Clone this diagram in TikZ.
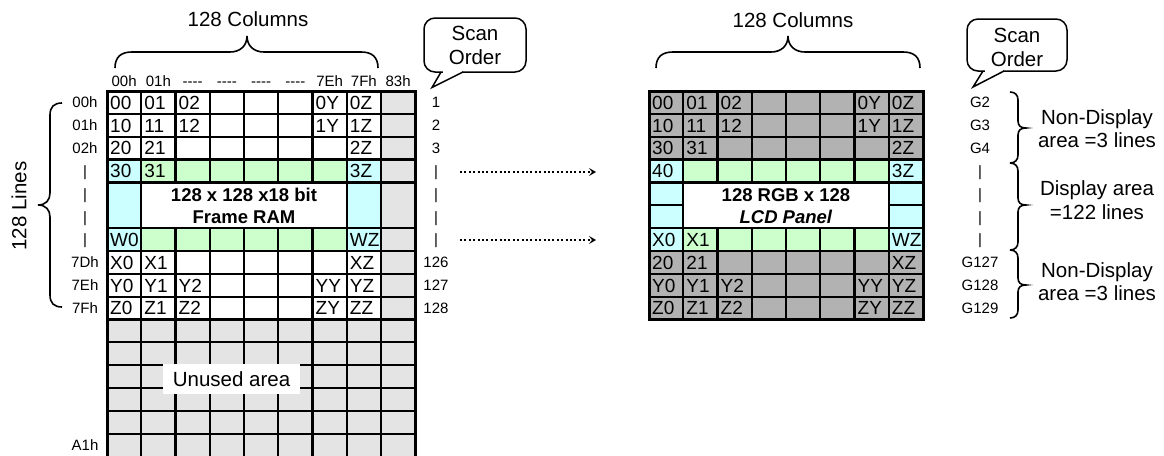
\documentclass[tikz,border=0pt]{standalone}
\usepackage{fontspec}
\setmainfont{Liberation Sans}
\usetikzlibrary{arrows.meta}
\definecolor{cy}{HTML}{CCFFFF}
\definecolor{gr}{HTML}{CCFFCC}
\definecolor{lg}{HTML}{E4E4E4}
\definecolor{dg}{HTML}{B2B2B2}
\def\LX{107}\def\RX{649}\def\CW{34.25}\def\TY{91}\def\RH{22.85}
\def\dsh{-{}-{}-{}-}
\begin{document}
\begin{tikzpicture}[x=1pt,y=-1pt,
  cellt/.style={font=\fontsize{19}{21}\selectfont,anchor=west,inner sep=0pt,text height=13.6pt,text depth=0pt},
  labt/.style={font=\fontsize{15}{16}\selectfont,inner sep=0pt,text height=10.7pt,text depth=0pt},
  bigt/.style={font=\fontsize{20.5}{24}\selectfont,inner sep=0pt,align=center},
  boldt/.style={font=\bfseries\fontsize{18.5}{22}\selectfont,inner sep=0pt,align=center},
  gridl/.style={line width=2.2pt},
  outl/.style={line width=3pt},
  brc/.style={line width=1.6pt},
  bub/.style={line width=1.5pt},
  dotarrow/.style={line width=2pt,dash pattern=on 2pt off 2.4pt,-{Stealth[length=7pt,width=8pt,inset=3pt]}}
]
\useasboundingbox (0,0) rectangle (1164,455);
\clip (0,0) rectangle (1164,455);
% ---------- left grid fills ----------
\fill[white] (\LX,\TY) rectangle ({\LX+9*\CW},470);
\fill[lg] ({\LX+8*\CW},\TY) rectangle ({\LX+9*\CW},470);
\fill[lg] (\LX,{\TY+10*\RH}) rectangle ({\LX+9*\CW},470);
\fill[cy] (\LX,{\TY+3*\RH}) rectangle ++(\CW,{4*\RH});
\fill[cy] ({\LX+7*\CW},{\TY+3*\RH}) rectangle ++(\CW,{4*\RH});
\fill[gr] ({\LX+\CW},{\TY+3*\RH}) rectangle ++({6*\CW},\RH);
\fill[gr] ({\LX+\CW},{\TY+6*\RH}) rectangle ++({6*\CW},\RH);
% left grid lines
\foreach \i in {1,7,8} \draw[gridl] ({\LX+\i*\CW},\TY) -- ({\LX+\i*\CW},470);
\foreach \i in {2,...,6} {
  \draw[gridl] ({\LX+\i*\CW},\TY) -- ({\LX+\i*\CW},{\TY+4*\RH});
  \draw[gridl] ({\LX+\i*\CW},{\TY+6*\RH}) -- ({\LX+\i*\CW},470);
}
\foreach \j in {1,2,3,4,6,7,8,9,10,11,12,13,14,15}
  \draw[gridl] (\LX,{\TY+\j*\RH}) -- ({\LX+9*\CW},{\TY+\j*\RH});
\draw[outl] (\LX,470) -- (\LX,\TY) -- ({\LX+9*\CW},\TY) -- ({\LX+9*\CW},470);
% ---------- right grid fills ----------
\fill[dg] (\RX,\TY) rectangle ({\RX+8*\CW},{\TY+10*\RH});
\fill[cy] (\RX,{\TY+3*\RH}) rectangle ++(\CW,{4*\RH});
\fill[cy] ({\RX+7*\CW},{\TY+3*\RH}) rectangle ++(\CW,{4*\RH});
\fill[gr] ({\RX+\CW},{\TY+3*\RH}) rectangle ++({6*\CW},\RH);
\fill[white] ({\RX+\CW},{\TY+4*\RH}) rectangle ++({6*\CW},{2*\RH});
\fill[gr] ({\RX+\CW},{\TY+6*\RH}) rectangle ++({6*\CW},\RH);
\foreach \i in {1,7} \draw[gridl] ({\RX+\i*\CW},\TY) -- ({\RX+\i*\CW},{\TY+10*\RH});
\foreach \i in {2,...,6} {
  \draw[gridl] ({\RX+\i*\CW},\TY) -- ({\RX+\i*\CW},{\TY+4*\RH});
  \draw[gridl] ({\RX+\i*\CW},{\TY+6*\RH}) -- ({\RX+\i*\CW},{\TY+10*\RH});
}
\foreach \j in {1,2,3,4,6,7,8,9}
  \draw[gridl] (\RX,{\TY+\j*\RH}) -- ({\RX+8*\CW},{\TY+\j*\RH});
\draw[gridl] (\RX,{\TY+5*\RH}) -- ++(\CW,0);
\draw[gridl] ({\RX+7*\CW},{\TY+5*\RH}) -- ++(\CW,0);
\draw[outl] (\RX,\TY) rectangle ({\RX+8*\CW},{\TY+10*\RH});
% ---------- cell texts ----------
\foreach \r/\c/\t in {0/0/00,0/1/01,0/2/02,0/6/0Y,0/7/0Z,
  1/0/10,1/1/11,1/2/12,1/6/1Y,1/7/1Z,
  2/0/20,2/1/21,2/7/2Z,
  3/0/30,3/1/31,3/7/3Z,
  6/0/W0,6/7/WZ,
  7/0/X0,7/1/X1,7/7/XZ,
  8/0/Y0,8/1/Y1,8/2/Y2,8/6/YY,8/7/YZ,
  9/0/Z0,9/1/Z1,9/2/Z2,9/6/ZY,9/7/ZZ}
  \node[cellt] (L\r-\c) at ({\LX+\c*\CW+3},{\TY+(\r+0.5)*\RH}) {\t};
\foreach \r/\c/\t in {0/0/00,0/1/01,0/2/02,0/6/0Y,0/7/0Z,
  1/0/10,1/1/11,1/2/12,1/6/1Y,1/7/1Z,
  2/0/30,2/1/31,2/7/2Z,
  3/0/40,3/7/3Z,
  6/0/X0,6/1/X1,6/7/WZ,
  7/0/20,7/1/21,7/7/XZ,
  8/0/Y0,8/1/Y1,8/2/Y2,8/6/YY,8/7/YZ,
  9/0/Z0,9/1/Z1,9/2/Z2,9/6/ZY,9/7/ZZ}
  \node[cellt] (R\r-\c) at ({\RX+\c*\CW+3},{\TY+(\r+0.5)*\RH}) {\t};
\node[boldt] (ram) at ({\LX+4*\CW},206) {128 x 128 x18 bit\\Frame RAM};
\node[boldt] (lcd) at ({\RX+4*\CW},206) {128 RGB x 128\\\textit{LCD Panel}};
\node[bigt,fill=white,minimum width=137pt,minimum height=30pt] (unused) at (231.5,379) {Unused area};
% ---------- labels ----------
\foreach \c/\t in {0/00h,1/01h,2/\dsh,3/\dsh,4/\dsh,5/\dsh,6/7Eh,7/7Fh,8/83h}
  \node[labt] (H\c) at ({\LX+(\c+0.5)*\CW},81.5) {\t};
\foreach \r/\t in {0/00h,1/01h,2/02h,3/|,4/|,5/|,6/|,7/7Dh,8/7Eh,9/7Fh,15/A1h}
  \node[labt] (RL\r) at (85,{\TY+(\r+0.5)*\RH}) {\t};
\foreach \r/\t in {0/1,1/2,2/3,3/|,4/|,5/|,6/|,7/126,8/127,9/128}
  \node[labt] (SL\r) at (436,{\TY+(\r+0.5)*\RH}) {\t};
\foreach \r/\t in {0/G2,1/G3,2/G4,3/|,4/|,5/|,6/|,7/G127,8/G128,9/G129}
  \node[labt] (SR\r) at (980,{\TY+(\r+0.5)*\RH}) {\t};
\node[bigt] (colsL) at (248,19) {128 Columns};
\node[bigt] (colsR) at (793,20) {128 Columns};
\node[bigt,rotate=90] (lines) at (19,206) {128 Lines};
\node[bigt,font=\fontsize{20.5}{23.5}\selectfont] (nd1) at (1097,128.5) {Non-Display\\area =3 lines};
\node[bigt,font=\fontsize{20.5}{23.5}\selectfont] (da) at (1097,200) {Display area\\=122 lines};
\node[bigt,font=\fontsize{20.5}{23.5}\selectfont] (nd2) at (1097,281.5) {Non-Display\\area =3 lines};
% ---------- braces ----------
\draw[brc] (115,68) .. controls (115,57) and (121,52) .. (132,52) -- (230,52)
  .. controls (240,52) and (247,46) .. (247,36) .. controls (247,46) and (254,52) .. (264,52)
  -- (361,52) .. controls (372,52) and (378,57) .. (378,68);
\draw[brc] (656,68) .. controls (656,57) and (662,52) .. (673,52) -- (771,52)
  .. controls (781,52) and (788,46) .. (788,36) .. controls (788,46) and (795,52) .. (805,52)
  -- (903,52) .. controls (914,52) and (920,57) .. (920,68);
\draw[brc] (62,103) .. controls (54,103) and (50,107) .. (50,115) -- (50,193)
  .. controls (50,200) and (46,205) .. (38,205) .. controls (46,205) and (50,210) .. (50,217)
  -- (50,295) .. controls (50,303) and (54,307) .. (62,307);
\foreach \yt/\ym/\yb in {92/128/163,163/205/250,250/285/318}
  \draw[brc] (1010,\yt) .. controls (1015,\yt) and (1018,{\yt+3}) .. (1018,{\yt+8}) -- (1018,{\ym-7})
    .. controls (1018,{\ym-2}) and (1021,\ym) .. (1026,\ym) .. controls (1021,\ym) and (1018,{\ym+2}) .. (1018,{\ym+7})
    -- (1018,{\yb-8}) .. controls (1018,{\yb-3}) and (1015,\yb) .. (1010,\yb);
% ---------- speech bubbles ----------
\draw[bub,fill=white,rounded corners=11pt] (424,18) rectangle (526,72);
\fill[white] (442.5,70) rectangle (461.5,74);
\draw[bub,line join=miter] (441,72) -- (432,87.5) -- (463,72);
\node[bigt] (scanL) at (475,45.5) {Scan\\Order};
\draw[bub,fill=white,rounded corners=11pt] (967,19) rectangle (1067,71);
\fill[white] (984.5,69) rectangle (1002.5,73);
\draw[bub,line join=miter] (983,71) -- (973,87) -- (1004,71);
\node[bigt] (scanR) at (1017,47) {Scan\\Order};
% ---------- dotted arrows ----------
\coordinate (a1s) at (460,172);
\coordinate (a1e) at (596,172);
\coordinate (a2s) at (460,240);
\coordinate (a2e) at (596,240);
\draw[dotarrow] (a1s) -- (a1e);
\draw[dotarrow] (a2s) -- (a2e);
\end{tikzpicture}
\end{document}
